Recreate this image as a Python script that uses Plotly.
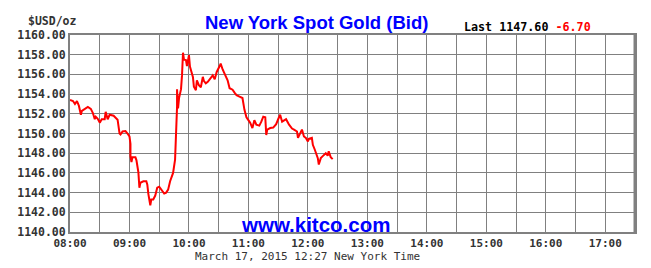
import plotly.graph_objects as go

# minutes after 08:00 (New York time) and bid price
minutes = [0, 3, 5, 7, 9, 10, 11, 12, 15, 18, 21, 23, 25, 26, 28, 30, 32, 35, 36, 38,
           40, 44, 46, 48, 50, 51, 53, 56, 58, 60, 61, 61, 62, 63, 66, 67, 69, 70, 71, 74,
           77, 78, 79, 81, 82, 84, 86, 88, 90, 92, 95, 97, 99, 101, 104, 106, 107, 108, 108, 109,
           110, 112, 113, 114, 114, 115, 117, 118, 119, 120, 121, 122, 124, 125, 127, 128, 130, 132, 134, 135,
           137, 139, 142, 144, 146, 148, 151, 152, 154, 156, 159, 161, 164, 166, 168, 171, 174, 176, 178, 181,
           182, 184, 186, 188, 191, 193, 195, 197, 198, 199, 202, 205, 208, 210, 212, 214, 217, 218, 221, 224,
           226, 229, 230, 232, 234, 236, 238, 240, 241, 244, 245, 247, 249, 250, 251, 253, 255, 258, 260, 261,
           263, 265]
prices = [1153.4, 1153.3, 1153.0, 1153.3, 1152.8, 1152.2, 1151.9, 1152.3, 1152.5, 1152.7,
          1152.5, 1152.1, 1151.45, 1151.7, 1151.5, 1151.1, 1151.45, 1151.45, 1152.2, 1151.45,
          1151.9, 1151.8, 1151.6, 1151.4, 1150.0, 1149.9, 1150.2, 1150.25, 1150.0, 1149.7,
          1148.95, 1147.7, 1147.1, 1147.6, 1147.6, 1147.3, 1146.05, 1144.5, 1145.0, 1145.15,
          1145.15, 1144.8, 1143.9, 1142.7, 1143.3, 1143.3, 1143.7, 1144.5, 1144.6, 1144.3,
          1143.9, 1144.0, 1144.3, 1145.15, 1146.0, 1147.35, 1149.35, 1152.7, 1154.5, 1152.55,
          1153.6, 1154.5, 1155.9, 1157.45, 1158.2, 1157.5, 1157.45, 1156.85, 1157.3, 1157.95,
          1156.8, 1156.4, 1155.75, 1154.75, 1154.4, 1155.4, 1154.9, 1154.7, 1155.75, 1155.35,
          1155.1, 1155.25, 1155.6, 1155.9, 1155.5, 1156.25, 1156.85, 1157.1, 1156.5, 1156.1,
          1155.4, 1154.6, 1154.45, 1154.15, 1153.9, 1153.75, 1153.6, 1152.4, 1151.65, 1151.2,
          1151.05, 1150.55, 1151.35, 1150.9, 1150.8, 1151.2, 1151.7, 1151.65, 1149.85, 1150.4,
          1150.55, 1150.6, 1150.95, 1151.45, 1151.9, 1151.2, 1151.35, 1151.45, 1150.9, 1150.5,
          1150.4, 1150.2, 1149.55, 1150.05, 1150.4, 1149.7, 1149.55, 1149.2, 1149.45, 1149.55,
          1148.85, 1148.35, 1147.85, 1147.5, 1146.85, 1147.5, 1147.7, 1148.0, 1147.75, 1148.2,
          1147.6, 1147.4]

tick_minutes = list(range(0, 571, 30))
hour_labels = ["08:00", "09:00", "10:00", "11:00", "12:00", "13:00", "14:00", "15:00", "16:00", "17:00"]
tick_text = [hour_labels[i // 2] if i % 2 == 0 and i // 2 < len(hour_labels) else "" for i in range(len(tick_minutes))]
y_ticks = [1140 + 2 * i for i in range(11)]

title_text = "New York Spot Gold (Bid)"
unit_text = "$USD/oz"
last_value = "1147.60"
change_value = "-6.70"
site_text = "www.kitco.com"
footer_text = "March 17, 2015 12:27 New York Time"

W, H = 651, 268
L, R, T, B = 70, 16, 35, 36
PW, PH = W - L - R, H - T - B


def px(x):
    return (x - L) / PW


def py(y):
    return (H - B - y) / PH


MONO = "DejaVu Sans Mono"
SANS = "Liberation Sans"
GRID = "#808080"

fig = go.Figure()
fig.add_trace(go.Scatter(x=minutes, y=prices, mode="lines",
                         line=dict(color="#ff0000", width=2), hoverinfo="skip"))

fig.update_layout(
    width=W, height=H,
    margin=dict(l=L, r=R, t=T, b=B),
    paper_bgcolor="white", plot_bgcolor="white",
    showlegend=False,
    xaxis=dict(range=[0, 570], tickmode="array", tickvals=tick_minutes, ticktext=tick_text,
               showgrid=True, gridcolor=GRID, gridwidth=1, zeroline=False,
               showline=True, linecolor=GRID, linewidth=2, mirror=True,
               ticks="", ticklen=0,
               tickfont=dict(family=MONO, size=11, color="#333333", weight="bold")),
    yaxis=dict(range=[1140, 1160], tickmode="array", tickvals=y_ticks,
               ticktext=[f"{v:.2f}" for v in y_ticks],
               showgrid=True, gridcolor=GRID, gridwidth=1, zeroline=False,
               showline=True, linecolor=GRID, linewidth=2, mirror=True,
               ticks="", ticklen=0,
               tickfont=dict(family=MONO, size=11.5, color="#333333", weight="bold")),
)

fig.add_shape(type="line", xref="paper", yref="paper", x0=1.0, x1=1.0, y0=0, y1=1,
              line=dict(color=GRID, width=3))

ann = []
ann.append(dict(text=unit_text, x=px(52), y=py(21), xanchor="center", yanchor="middle",
                font=dict(family=MONO, size=11.5, color="#333333", weight="bold")))
ann.append(dict(text=title_text, x=px(316), y=py(22.5), xanchor="center", yanchor="middle",
                font=dict(family=SANS, size=18.5, color="#0000ff", weight="bold")))
ann.append(dict(text=f"Last {last_value} <span style='color:#ff0000'>{change_value}</span>",
                x=px(462), y=py(26.5), xanchor="left", yanchor="middle",
                font=dict(family=MONO, size=11.7, color="#000000", weight="bold")))
ann.append(dict(text=site_text, x=px(315), y=py(224.5), xanchor="center", yanchor="middle",
                font=dict(family=SANS, size=20.5, color="#0000ff", weight="bold")))
ann.append(dict(text=footer_text, x=px(307), y=py(256.5), xanchor="center", yanchor="middle",
                font=dict(family=MONO, size=11, color="#333333")))
for a in ann:
    a.update(xref="paper", yref="paper", showarrow=False)
fig.update_layout(annotations=ann)

fig.write_html("out.html")
